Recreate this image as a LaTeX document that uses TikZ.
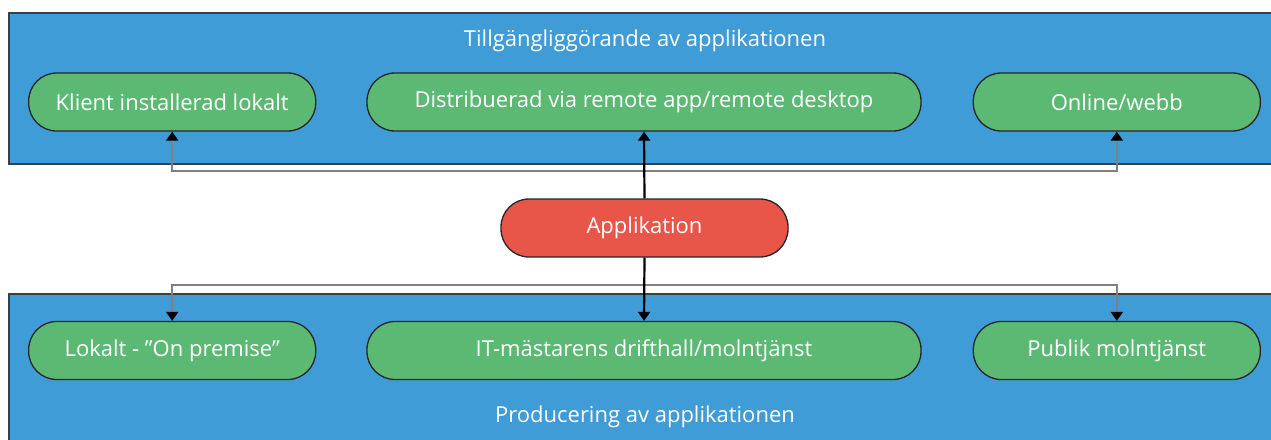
\documentclass[tikz,border=0pt]{standalone}
\usepackage{fontspec}
\setmainfont{Open Sans}
\usepackage{tikz}
\usetikzlibrary{arrows.meta,positioning,calc}
\definecolor{layerblue}{HTML}{3F9CD6}
\definecolor{pillgreen}{HTML}{5CB974}
\definecolor{appred}{HTML}{E8564A}
\definecolor{frameline}{HTML}{3A3F44}

\begin{document}
\begin{tikzpicture}[x=1pt,y=-1pt,
    layer/.style={draw=frameline,line width=1.8pt,fill=layerblue,anchor=north west,minimum width=1280pt,minimum height=151pt,inner sep=0pt},
    pill/.style={draw=black!85,line width=1.3pt,fill=pillgreen,rounded corners=28pt,minimum height=58pt,minimum width=287pt,inner sep=0pt,text=white,font=\fontsize{22}{26}\selectfont},
    heading/.style={text=white,font=\fontsize{22}{26}\selectfont},
    sidelink/.style={draw=black!50,line width=2pt,-{Triangle[width=12pt,length=9pt,color=black]}},
    mainlink/.style={line width=2.2pt,-{Triangle[width=12pt,length=9pt]}}]
    \useasboundingbox (0,0) rectangle (1271,439);
    \clip (0,0) rectangle (1271,439);
    % the two layers
    \node[layer] (topLayer) at (8,12) {};
    \node[layer] (bottomLayer) at (8,293) {};
    \node[heading] (topTitle) at (645,41) {Tillgängliggörande av applikationen};
    \node[heading] (bottomTitle) at (645,417) {Producering av applikationen};
    % top row
    \node[pill,minimum width=554pt] (distr) at (644,102) {Distribuerad via remote app/remote desktop};
    \node[pill,left=50pt of distr] (klient) {Klient installerad lokalt};
    \node[pill,right=51pt of distr] (online) {Online/webb};
    % bottom row
    \node[pill,minimum width=554pt] (drift) at (644,350.5) {IT-mästarens drifthall/molntjänst};
    \node[pill,left=50pt of drift] (lokalt) {Lokalt - ”On premise”};
    \node[pill,right=51pt of drift] (publik) {Publik molntjänst};
    % the application
    \node[pill,fill=appred] (app) at (644.5,228) {Applikation};
    \coordinate (busUp) at (644,171);
    \coordinate (busDown) at (644,285);
    \draw[sidelink] (busUp) -| (klient.south);
    \draw[sidelink] (busUp) -| (online.south);
    \draw[sidelink] (busDown) -| (lokalt.north);
    \draw[sidelink] (busDown) -| (publik.north);
    \draw[mainlink] (app.north) -- (distr.south);
    \draw[mainlink] (app.south) -- (drift.north);
\end{tikzpicture}
\end{document}
